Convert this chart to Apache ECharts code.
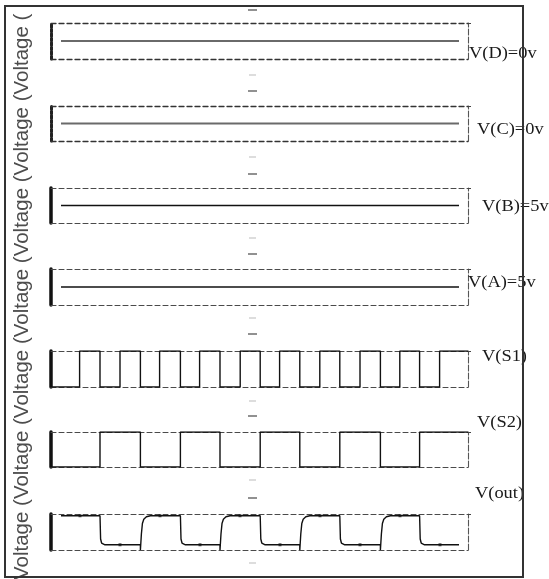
<!DOCTYPE html>
<html><head><meta charset="utf-8">
<script src="https://cdn.jsdelivr.net/npm/echarts@6/dist/echarts.min.js"></script>
<style>html,body{margin:0;padding:0;background:#fff}#c{width:549px;height:579px}</style>
</head><body><div id="c"></div>
<script>
// ---- data ----
const panelLabels = ['V(D)=0v','V(C)=0v','V(B)=5v','V(A)=5v','V(S1)','V(S2)','V(out)'];
const staticValues = [0, 0, 5, 5];           // D, C, B, A (volts)
const staticSpan = [0.5, 20.4];               // start / end time of the flat traces
const timeMax = 20.85;

const s1Times  = [0,1.43,2.45,3.45,4.47,5.43,6.47,7.43,8.45,9.46,10.46,11.43,12.44,13.44,14.44,15.45,16.47,17.44,18.43,19.43,20.85];
const s1Values = [0,5,0,5,0,5,0,5,0,5,0,5,0,5,0,5,0,5,0,5,5];

const s2Times  = [0,2.45,4.47,6.47,8.45,10.46,12.44,14.44,16.47,18.43,20.85];
const s2Values = [0,5,0,5,0,5,0,5,0,5,5];

const outTimes = [0.5,2.45,2.48,2.53,2.7,
  4.47,4.47,4.52,4.57,4.64,4.77,4.97, 6.47,6.5,6.55,6.72,
  8.45,8.45,8.5,8.55,8.62,8.75,8.95, 10.46,10.49,10.54,10.71,
  12.44,12.44,12.49,12.54,12.61,12.74,12.94, 14.44,14.47,14.52,14.69,
  16.47,16.47,16.52,16.57,16.64,16.77,16.97, 18.43,18.46,18.51,18.68, 20.4];
const outValues = [5,5,1.0,0.3,0,
  0,-0.9,1.9,3.65,4.4,4.83,5, 5,1.0,0.3,0,
  0,-0.9,1.9,3.65,4.4,4.83,5, 5,1.0,0.3,0,
  0,-0.9,1.9,3.65,4.4,4.83,5, 5,1.0,0.3,0,
  0,-0.9,1.9,3.65,4.4,4.83,5, 5,1.0,0.3,0, 0];

const outMarkTimes  = [1.45,3.45,5.45,7.45,9.45,11.45,13.45,15.45,17.45,19.45];
const outMarkValues = [5,0,5,0,5,0,5,0,5,0];

// ---- layout / style ----
const tops    = [23, 106, 188, 269, 351, 432, 514];
const heights = [36, 35, 35, 36, 36, 35, 36];
const yRanges = [[-1,1],[-1,1],[4,6],[4,6],[0,5],[0,5],[-0.9,5.3]];
const labelPos = [[469,54],[477,130],[482,207],[468,283],[482,357],[477,423],[475,494]];
const dashDark = [10, 91, 174, 254, 334, 416, 498];
const dashFaint = [75, 157, 238, 318, 401, 480, 563];

const zip = (a, b) => a.map((t, i) => [t, b[i]]);

const grid = [], xAxis = [], yAxis = [], series = [];
tops.forEach((top, i) => {
  const boxLine = i < 2 ? { color: '#333', width: 1.3, type: [5, 3] } : { color: '#4a4a4a', width: 1.1, type: [5, 3] };
  grid.push({ left: 51, right: 81, top: top, height: heights[i], show: false });
  const xa = { type: 'value', gridIndex: i, min: 0, max: timeMax,
    axisLabel: { show: false }, axisTick: { show: false }, splitLine: { show: false },
    axisLine: { show: true, onZero: false, lineStyle: boxLine } };
  xAxis.push(Object.assign({ position: 'bottom' }, xa));
  xAxis.push(Object.assign({ position: 'top' }, xa));
  const [mn, mx] = yRanges[i];
  yAxis.push({ type: 'value', gridIndex: i, min: mn, max: mx, position: 'left',
    axisLabel: { show: false }, splitLine: { show: false }, axisTick: { show: false },
    axisLine: { show: true, onZero: false, lineStyle: i < 2
      ? { color: '#222', width: 3, type: [3, 1.5] }
      : { color: '#111', width: 3.5 } } });
  yAxis.push({ type: 'value', gridIndex: i, min: mn, max: mx, position: 'right',
    axisLabel: { show: false }, splitLine: { show: false },
    axisTick: { show: true, length: 3, customValues: [mx], lineStyle: { color: '#444' } },
    axisLine: { show: true, onZero: false, lineStyle: { color: '#555', width: 1.1, type: [6, 2] } } });
});

staticValues.forEach((v, i) => {
  series.push({ type: 'line', xAxisIndex: 2 * i, yAxisIndex: 2 * i, showSymbol: false,
    data: [[staticSpan[0], v], [staticSpan[1], v]],
    lineStyle: i < 2 ? { color: '#6a6a6a', width: 2 } : { color: '#111', width: 1.4 } });
});
series.push({ type: 'line', step: 'end', xAxisIndex: 8, yAxisIndex: 8, showSymbol: false,
  data: zip(s1Times, s1Values), lineStyle: { color: '#111', width: 1.4 } });
series.push({ type: 'line', step: 'end', xAxisIndex: 10, yAxisIndex: 10, showSymbol: false,
  data: zip(s2Times, s2Values), lineStyle: { color: '#111', width: 1.4 } });
series.push({ type: 'line', xAxisIndex: 12, yAxisIndex: 12, showSymbol: false,
  data: zip(outTimes, outValues), lineStyle: { color: '#111', width: 1.4 } });
series.push({ type: 'scatter', xAxisIndex: 12, yAxisIndex: 12, symbol: 'rect', symbolSize: 3,
  data: zip(outMarkTimes, outMarkValues), itemStyle: { color: '#222' } });

const graphic = [];
graphic.push({ type: 'text', x: 22, y: 580, rotation: Math.PI / 2, z: 50,
  style: { text: 'Voltage ('.repeat(7), fill: '#4d4d4d', font: '20.5px "Liberation Sans", Arial, sans-serif',
    textAlign: 'left', textVerticalAlign: 'middle' } });
panelLabels.forEach((t, i) => {
  graphic.push({ type: 'text', x: labelPos[i][0], y: labelPos[i][1], scaleX: 1.15, z: 50,
    style: { text: t, fill: '#1a1a1a', font: '16px "Liberation Serif", "Times New Roman", serif',
      textAlign: 'left', textVerticalAlign: 'middle' } });
});
dashDark.forEach(y => graphic.push({ type: 'line', z: 50,
  shape: { x1: 248, y1: y, x2: 257, y2: y }, style: { stroke: '#555', lineWidth: 1.3 } }));
dashFaint.forEach(y => graphic.push({ type: 'line', z: 50,
  shape: { x1: 249, y1: y, x2: 256, y2: y }, style: { stroke: '#bbb', lineWidth: 1 } }));
graphic.push({ type: 'rect', z: 100, shape: { x: 5, y: 6, width: 518, height: 571 },
  style: { fill: null, stroke: '#333', lineWidth: 2 } });

const chart = echarts.init(document.getElementById('c'), null, { renderer: 'canvas' });
chart.setOption({ backgroundColor: '#fff', animation: false, grid, xAxis, yAxis, series, graphic });
</script></body></html>
